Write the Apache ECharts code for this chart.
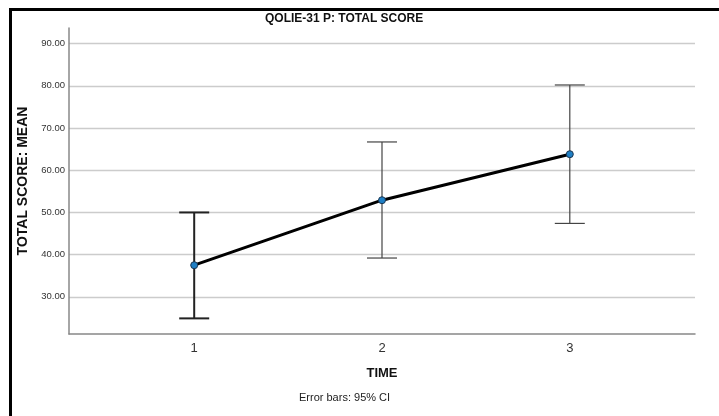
<!DOCTYPE html>
<html>
<head>
<meta charset="utf-8">
<script src="https://cdn.jsdelivr.net/npm/echarts@6/dist/echarts.min.js"></script>
<style>
  html, body { margin: 0; padding: 0; background: #fff; }
  #chart { width: 719px; height: 416px; }
</style>
</head>
<body>
<div id="chart"></div>
<script>
// data
const times = [1, 2, 3]
const means = [37.5, 52.9, 63.8]
const ciLower = [24.9, 39.2, 47.4]
const ciUpper = [50.0, 66.7, 80.2]
const yTicks = [30, 40, 50, 60, 70, 80, 90]

const chart = echarts.init(document.getElementById('chart'))

const font = 'Arial, "Liberation Sans", sans-serif'

const errorData = times.map((t, i) => [t, ciLower[i], ciUpper[i], i])
const lineData = times.map((t, i) => [t, means[i]])

const option = {
  animation: false,
  title: {
    text: 'QOLIE-31 P: TOTAL SCORE',
    left: 265,
    top: 13,
    padding: 0,
    textStyle: { fontFamily: font, fontSize: 12, fontWeight: 'bold', color: '#111' }
  },
  graphic: [
    {
      // outer frame (only top and left edges fall inside the picture)
      type: 'rect',
      silent: true,
      shape: { x: 10.5, y: 9.5, width: 900, height: 600 },
      style: { fill: 'none', stroke: '#000', lineWidth: 3 }
    },
    {
      type: 'text',
      left: 299,
      top: 392,
      style: {
        text: 'Error bars: 95% CI',
        fontFamily: font,
        fontSize: 11,
        fill: '#222'
      }
    }
  ],
  grid: { left: 69, right: 24, top: 28, bottom: 82 },
  xAxis: {
    type: 'value',
    min: 1 / 3,
    max: 11 / 3,
    name: 'TIME',
    nameLocation: 'middle',
    nameGap: 33,
    nameTextStyle: { fontFamily: font, fontSize: 13, fontWeight: 'bold', color: '#111' },
    axisLine: { show: true, lineStyle: { color: '#888', width: 1.5 } },
    axisTick: { show: false, customValues: times },
    axisLabel: {
      customValues: times,
      fontFamily: font,
      fontSize: 13,
      color: '#333',
      margin: 8
    },
    splitLine: { show: false }
  },
  yAxis: {
    type: 'value',
    min: 21.2,
    max: 93.7,
    name: 'TOTAL SCORE: MEAN',
    nameLocation: 'middle',
    nameGap: 34,
    nameTextStyle: { fontFamily: font, fontSize: 14, fontWeight: 'bold', color: '#111' },
    axisLine: { show: true, lineStyle: { color: '#888', width: 1.5 } },
    axisTick: { show: false, customValues: yTicks },
    axisLabel: {
      customValues: yTicks,
      formatter: v => v.toFixed(2),
      fontFamily: font,
      fontSize: 9.5,
      color: '#333',
      margin: 4
    },
    splitLine: { show: true, lineStyle: { color: '#cccccc', width: 1.3 } }
  },
  series: [
    {
      type: 'custom',
      z: 2,
      data: errorData,
      renderItem: (params, api) => {
        const x = api.value(0)
        const lo = api.coord([x, api.value(1)])
        const hi = api.coord([x, api.value(2)])
        const first = api.value(3) === 0
        const style = {
          stroke: first ? '#222' : '#444',
          lineWidth: first ? 2 : 1.2
        }
        const half = 15
        return {
          type: 'group',
          children: [
            { type: 'line', shape: { x1: lo[0], y1: lo[1], x2: hi[0], y2: hi[1] }, style },
            { type: 'line', shape: { x1: hi[0] - half, y1: hi[1], x2: hi[0] + half, y2: hi[1] }, style },
            { type: 'line', shape: { x1: lo[0] - half, y1: lo[1], x2: lo[0] + half, y2: lo[1] }, style }
          ]
        }
      }
    },
    {
      type: 'line',
      z: 3,
      data: lineData,
      symbol: 'circle',
      symbolSize: 7,
      lineStyle: { color: '#000', width: 3 },
      itemStyle: { color: '#1f7fc4', borderColor: '#1b3550', borderWidth: 1 }
    }
  ]
}

chart.setOption(option)
</script>
</body>
</html>
